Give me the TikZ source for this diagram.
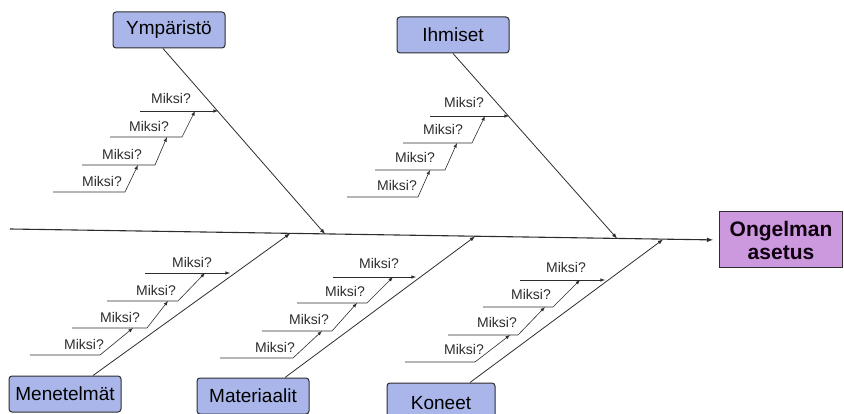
\documentclass[tikz,border=0pt]{standalone}
\usepackage{fontspec}
\setmainfont{Liberation Sans}
\definecolor{causeblue}{RGB}{170,182,234}
\definecolor{effectviolet}{RGB}{204,152,222}
\definecolor{inkgray}{RGB}{45,45,45}
\begin{document}
\begin{tikzpicture}[x=1pt, y=-1pt,
	cause/.style={shape=rectangle, rounded corners=3pt, draw=inkgray, line width=1pt, fill=causeblue,
		minimum width=112pt, minimum height=36pt, font=\fontsize{19}{22}\selectfont},
	effect/.style={shape=rectangle, draw=inkgray, line width=1pt, fill=effectviolet, align=center,
		minimum width=123pt, minimum height=56pt, text=black!90!violet, font=\fontsize{21}{23}\selectfont\bfseries},
	why/.style={inner sep=1pt, text=inkgray, font=\fontsize{14}{16}\selectfont},
	bone/.style={color=inkgray, line width=0.8pt},
	twig/.style={draw=inkgray, line width=0.6pt}]
	\useasboundingbox (0,0) rectangle (844,414);

	% causes and the problem
	\node[cause]                     (ymp)  at (169,30)  {Ympäristö};
	\node[cause]                     (ihm)  at (453,35)  {Ihmiset};
	\node[cause]                     (men)  at (65,394)  {Menetelmät};
	\node[cause]                     (mat)  at (253,396) {Materiaalit};
	\node[cause, minimum width=108pt, minimum height=40pt] (kon) at (441,403) {Koneet};
	\node[effect]                    (prob) at (781,240) {Ongelman\\asetus};

	% spine
	\coordinate (sp0) at (10,229);
	\coordinate (b1) at (325,234);
	\coordinate (b2) at (617,238.5);
	\coordinate (b3) at (290,233.5);
	\coordinate (b4) at (475,236.5);
	\coordinate (b5) at (663,239.5);
	\path [-latex, bone, line width=1.1pt, shorten >=6pt] (sp0) edge (prob.west);

	% main bones
	\path [-latex, bone] ([xshift=-6pt]ymp.south) edge (b1);
	\path [-latex, bone] (ihm.south)              edge (b2);
	\path [-latex, bone] ([xshift=28pt]men.north) edge (b3);
	\path [-latex, bone] ([xshift=32pt]mat.north) edge (b4);
	\path [-latex, bone] ([xshift=29pt]kon.north) edge (b5);

	% Ympäristö
	\coordinate (y1s) at (140,111); \coordinate (y1e) at (218,111);
	\coordinate (y2s) at (110,137); \coordinate (y2e) at (182,137); \coordinate (y2t) at (195,111);
	\coordinate (y3s) at (82,165);  \coordinate (y3e) at (155,165); \coordinate (y3t) at (167,137);
	\coordinate (y4s) at (53,192);  \coordinate (y4e) at (125,192); \coordinate (y4t) at (138,165);
	\draw [-latex, twig] (y1s) -- (y1e);
	\draw [-latex, twig] (y2s) -- (y2e) -- (y2t);
	\draw [-latex, twig] (y3s) -- (y3e) -- (y3t);
	\draw [-latex, twig] (y4s) -- (y4e) -- (y4t);
	\node[why] (yq1) at (171,98)  {Miksi?};
	\node[why] (yq2) at (149,126) {Miksi?};
	\node[why] (yq3) at (122,154) {Miksi?};
	\node[why] (yq4) at (102,181) {Miksi?};

	% Ihmiset
	\coordinate (i1s) at (430,116); \coordinate (i1e) at (509,116);
	\coordinate (i2s) at (403,143); \coordinate (i2e) at (472,143); \coordinate (i2t) at (485,116);
	\coordinate (i3s) at (375,170); \coordinate (i3e) at (445,170); \coordinate (i3t) at (457,143);
	\coordinate (i4s) at (347,197); \coordinate (i4e) at (418,197); \coordinate (i4t) at (430,170);
	\draw [-latex, twig] (i1s) -- (i1e);
	\draw [-latex, twig] (i2s) -- (i2e) -- (i2t);
	\draw [-latex, twig] (i3s) -- (i3e) -- (i3t);
	\draw [-latex, twig] (i4s) -- (i4e) -- (i4t);
	\node[why] (iq1) at (464,102) {Miksi?};
	\node[why] (iq2) at (443,129) {Miksi?};
	\node[why] (iq3) at (415,157) {Miksi?};
	\node[why] (iq4) at (397,185) {Miksi?};

	% Menetelmät
	\coordinate (m1s) at (145,273); \coordinate (m1e) at (230,273);
	\coordinate (m2s) at (107,301); \coordinate (m2e) at (178,301); \coordinate (m2t) at (205,273);
	\coordinate (m3s) at (72,328);  \coordinate (m3e) at (147,328); \coordinate (m3t) at (168,301);
	\coordinate (m4s) at (30,355);  \coordinate (m4e) at (100,355); \coordinate (m4t) at (133,328);
	\draw [-latex, twig] (m1s) -- (m1e);
	\draw [-latex, twig] (m2s) -- (m2e) -- (m2t);
	\draw [-latex, twig] (m3s) -- (m3e) -- (m3t);
	\draw [-latex, twig] (m4s) -- (m4e) -- (m4t);
	\node[why] (mq1) at (192,262) {Miksi?};
	\node[why] (mq2) at (156,290) {Miksi?};
	\node[why] (mq3) at (120,317) {Miksi?};
	\node[why] (mq4) at (84,344)  {Miksi?};

	% Materiaalit
	\coordinate (t1s) at (333,277); \coordinate (t1e) at (416,277);
	\coordinate (t2s) at (297,303); \coordinate (t2e) at (367,303); \coordinate (t2t) at (393,277);
	\coordinate (t3s) at (262,331); \coordinate (t3e) at (332,331); \coordinate (t3t) at (357,303);
	\coordinate (t4s) at (220,358); \coordinate (t4e) at (293,358); \coordinate (t4t) at (322,331);
	\draw [-latex, twig] (t1s) -- (t1e);
	\draw [-latex, twig] (t2s) -- (t2e) -- (t2t);
	\draw [-latex, twig] (t3s) -- (t3e) -- (t3t);
	\draw [-latex, twig] (t4s) -- (t4e) -- (t4t);
	\node[why] (tq1) at (379,263) {Miksi?};
	\node[why] (tq2) at (345,291) {Miksi?};
	\node[why] (tq3) at (309,319) {Miksi?};
	\node[why] (tq4) at (275,347) {Miksi?};

	% Koneet
	\coordinate (k1s) at (520,280); \coordinate (k1e) at (605,280);
	\coordinate (k2s) at (483,307); \coordinate (k2e) at (553,307); \coordinate (k2t) at (580,280);
	\coordinate (k3s) at (448,335); \coordinate (k3e) at (518,335); \coordinate (k3t) at (545,307);
	\coordinate (k4s) at (405,362); \coordinate (k4e) at (475,362); \coordinate (k4t) at (510,335);
	\draw [-latex, twig] (k1s) -- (k1e);
	\draw [-latex, twig] (k2s) -- (k2e) -- (k2t);
	\draw [-latex, twig] (k3s) -- (k3e) -- (k3t);
	\draw [-latex, twig] (k4s) -- (k4e) -- (k4t);
	\node[why] (kq1) at (566,267) {Miksi?};
	\node[why] (kq2) at (531,294) {Miksi?};
	\node[why] (kq3) at (497,322) {Miksi?};
	\node[why] (kq4) at (464,349) {Miksi?};
\end{tikzpicture}
\end{document}
